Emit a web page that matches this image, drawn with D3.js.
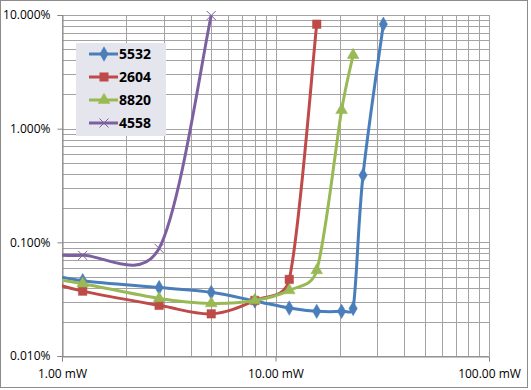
<!DOCTYPE html>
<html>
<head>
<meta charset="utf-8">
<script src="https://cdn.jsdelivr.net/npm/d3@7"></script>
<style>
    body { margin: 0; background: #fff; }
    text { font-family: "Open Sans", "DejaVu Sans", sans-serif; }
</style>
</head>
<body>
<svg width="531" height="390"></svg>
<script>
// power levels (mW) shared by all series, first one sits left of the axis and gets clipped
var power = [0.8, 1.25, 2.85, 5.0, 8.0, 11.6, 15.6, 20.4, 23.1, 25.7, 32.0];

// error rate in percent, index-matched to power
var s5532 = [0.054, 0.046, 0.040, 0.0363, 0.0305, 0.0264, 0.0247, 0.0247, 0.0262, 0.389, 8.3];
var s2604 = [0.047, 0.0372, 0.0279, 0.0235, 0.0308, 0.0472, 8.3];
var s8820 = [0.0495, 0.0433, 0.0321, 0.029, 0.0308, 0.0378, 0.0567, 1.455, 4.44];
var s4558 = [0.079, 0.0768, 0.0885, 9.9];

var seriesNames = ["5532", "2604", "8820", "4558"];
var seriesColors = ["#4a7ebb", "#be4b48", "#98b954", "#7d60a0"];
var seriesMarkers = ["diamond", "square", "triangle", "cross"];

var yTicks = [0.01, 0.1, 1, 10];
var xTicks = [1, 10, 100];

var svg = d3.select("svg");
var x = d3.scaleLog().domain([1, 100]).range([62, 489]);
var y = d3.scaleLog().domain([0.01, 10]).range([356, 15]);

function drawFrame() {
    svg.append("rect")
        .attr("x", 0.5).attr("y", 0.5)
        .attr("width", 527).attr("height", 387)
        .attr("fill", "#fff")
        .attr("stroke", "#8c8c8c");
}

function drawGrid() {
    var g = svg.append("g").attr("stroke", "#a3a3a3").attr("stroke-width", 1);
    var xMinor = x.ticks(30);
    g.selectAll("line.vx").data(xMinor).enter()
        .append("line")
        .attr("x1", function(d) { return Math.round(x(d)) + 0.5; })
        .attr("x2", function(d) { return Math.round(x(d)) + 0.5; })
        .attr("y1", 15).attr("y2", 356);
    var yMinor = y.ticks(30);
    g.selectAll("line.hy").data(yMinor).enter()
        .append("line")
        .attr("y1", function(d) { return Math.round(y(d)) + 0.5; })
        .attr("y2", function(d) { return Math.round(y(d)) + 0.5; })
        .attr("x1", 62).attr("x2", 489);
}

function drawAxes() {
    var yAxis = d3.axisLeft(y)
        .tickValues(yTicks)
        .tickSize(5)
        .tickPadding(8)
        .tickFormat(function(d) { return d.toFixed(3) + "%"; });
    var xAxis = d3.axisBottom(x)
        .tickValues(xTicks)
        .tickSize(5)
        .tickPadding(8)
        .tickFormat(function(d) { return d.toFixed(2) + " mW"; });
    var ga = svg.append("g").attr("transform", "translate(62.5,0)").call(yAxis);
    var gb = svg.append("g").attr("transform", "translate(0,356.5)").call(xAxis);
    [ga, gb].forEach(function(g) {
        g.select(".domain").attr("stroke", "#868686");
        g.selectAll(".tick line").attr("stroke", "#868686");
        g.selectAll(".tick text")
            .attr("fill", "#000")
            .style("font-size", "12px")
            .style("font-family", "'Open Sans', sans-serif");
    });
    ga.selectAll(".tick text").attr("x", -12);
    gb.selectAll(".tick text").attr("y", 13);
}

function markerPath(type) {
    if (type === "diamond") return d3.symbol().type(d3.symbolDiamond).size(60)();
    if (type === "square") return d3.symbol().type(d3.symbolSquare).size(72)();
    if (type === "triangle") return d3.symbol().type(d3.symbolTriangle).size(60)();
    return "M-4.5,-4.5L4.5,4.5M-4.5,4.5L4.5,-4.5";
}

// excel-ish smoothing: catmull-rom tangents (1/6) but control arm capped at half the segment
function clampArm(dx, dy, maxLen) {
    var len = Math.sqrt(dx * dx + dy * dy);
    if (len > maxLen && len > 0) {
        return [dx * maxLen / len, dy * maxLen / len];
    }
    return [dx, dy];
}

function smoothPath(pts) {
    var p = d3.path();
    p.moveTo(pts[0][0], pts[0][1]);
    for (var i = 0; i < pts.length - 1; i++) {
        var p0 = pts[i - 1] || pts[i];
        var p1 = pts[i];
        var p2 = pts[i + 1];
        var p3 = pts[i + 2] || pts[i + 1];
        var seg = Math.sqrt(Math.pow(p2[0] - p1[0], 2) + Math.pow(p2[1] - p1[1], 2));
        var a = clampArm((p2[0] - p0[0]) / 6, (p2[1] - p0[1]) / 6, seg * 0.5);
        var b = clampArm((p3[0] - p1[0]) / 6, (p3[1] - p1[1]) / 6, seg * 0.5);
        p.bezierCurveTo(p1[0] + a[0], p1[1] + a[1], p2[0] - b[0], p2[1] - b[1], p2[0], p2[1]);
    }
    return p.toString();
}

function drawSeries() {
    svg.append("clipPath").attr("id", "plot")
        .append("rect").attr("x", 62).attr("y", 8).attr("width", 440).attr("height", 350);
    var all = [s5532, s2604, s8820, s4558];
    all.forEach(function(vals, i) {
        var pts = vals.map(function(v, j) { return [power[j], v]; });
        var px = pts.map(function(d) { return [x(d[0]), y(d[1])]; });
        var g = svg.append("g").attr("clip-path", "url(#plot)");
        g.append("path")
            .attr("d", smoothPath(px))
            .attr("fill", "none")
            .attr("stroke", seriesColors[i])
            .attr("stroke-width", 3)
            .attr("stroke-linejoin", "round");
        g.selectAll("path.m").data(pts.slice(1)).enter()
            .append("path")
            .attr("transform", function(d) { return "translate(" + x(d[0]) + "," + y(d[1]) + ")"; })
            .attr("d", markerPath(seriesMarkers[i]))
            .attr("fill", seriesMarkers[i] === "cross" ? "none" : seriesColors[i])
            .attr("stroke", seriesColors[i])
            .attr("stroke-width", seriesMarkers[i] === "cross" ? 1 : 0.5);
    });
}

function drawLegend() {
    svg.append("rect")
        .attr("x", 76).attr("y", 43)
        .attr("width", 90).attr("height", 93)
        .attr("fill", "#e5e5ee");
    var rows = [54, 77, 100, 123];
    seriesNames.forEach(function(name, i) {
        svg.append("line")
            .attr("x1", 89).attr("x2", 118)
            .attr("y1", rows[i]).attr("y2", rows[i])
            .attr("stroke", seriesColors[i])
            .attr("stroke-width", 3);
        svg.append("path")
            .attr("transform", "translate(104," + rows[i] + ")")
            .attr("d", markerPath(seriesMarkers[i]))
            .attr("fill", seriesMarkers[i] === "cross" ? "none" : seriesColors[i])
            .attr("stroke", seriesColors[i])
            .attr("stroke-width", seriesMarkers[i] === "cross" ? 1 : 0.5);
        svg.append("text")
            .attr("x", 119)
            .attr("y", rows[i] + 5)
            .text(name)
            .attr("font-size", "14px")
            .attr("font-weight", "bold");
    });
}

drawFrame();
drawGrid();
drawAxes();
drawSeries();
drawLegend();
</script>
</body>
</html>
